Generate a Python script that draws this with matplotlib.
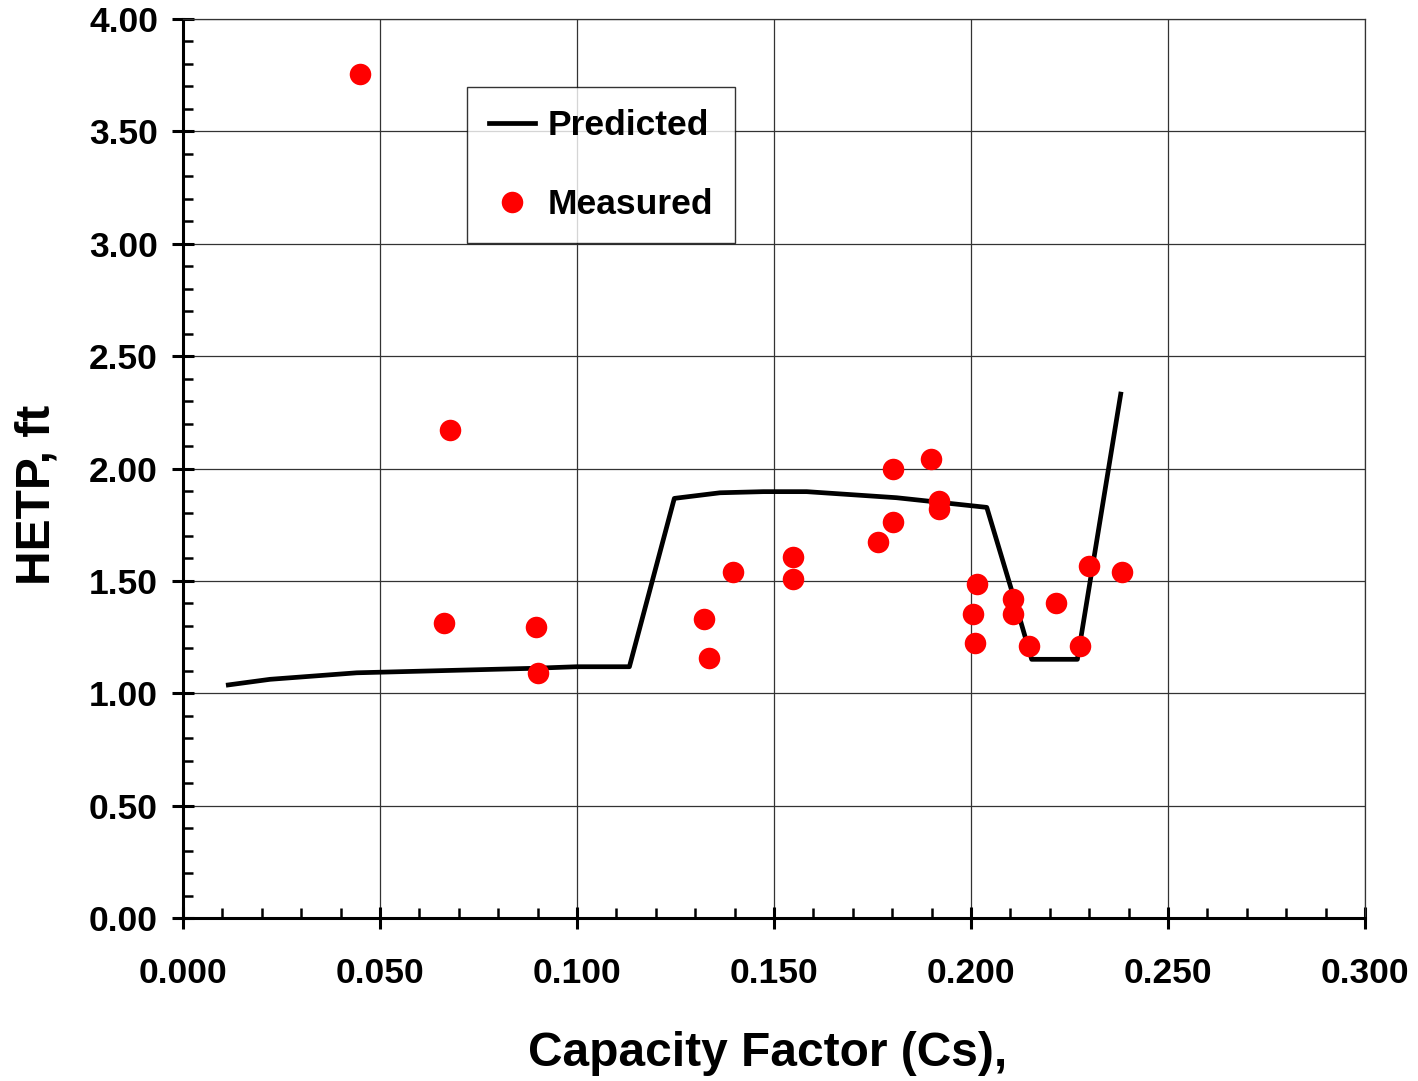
import matplotlib
matplotlib.use("Agg")
import matplotlib.pyplot as plt
from matplotlib.ticker import MultipleLocator, FormatStrFormatter

plt.rcParams['font.family'] = ['Liberation Sans', 'DejaVu Sans']
plt.rcParams['font.weight'] = 'bold'

# Predicted curve
pred_x = [0.0115, 0.0221, 0.0441, 0.0889, 0.0999, 0.1133, 0.1247, 0.1363,
          0.1473, 0.1583, 0.1811, 0.2040, 0.2103, 0.2154, 0.2270, 0.2380]
pred_y = [1.037, 1.062, 1.091, 1.111, 1.118, 1.118, 1.867, 1.892,
          1.897, 1.897, 1.870, 1.827, 1.459, 1.151, 1.151, 2.331]

# Measured points
meas_x = [0.0449, 0.0678, 0.0663, 0.0896, 0.0900, 0.1323, 0.1334, 0.1395,
          0.1547, 0.1547, 0.1765, 0.1803, 0.1803, 0.1898, 0.1918, 0.1918,
          0.2016, 0.2005, 0.2009, 0.2107, 0.2107, 0.2146, 0.2215, 0.2276,
          0.2299, 0.2382]
meas_y = [3.755, 2.171, 1.311, 1.293, 1.091, 1.332, 1.158, 1.540,
          1.606, 1.507, 1.673, 1.761, 1.996, 2.042, 1.857, 1.820,
          1.486, 1.353, 1.225, 1.419, 1.353, 1.212, 1.400, 1.212,
          1.566, 1.540]

W, H = 1418, 1081
fig = plt.figure(figsize=(W/100, H/100), dpi=100)
ax = fig.add_axes([183/W, 1-918/H, (1365-183)/W, (918-19)/H])

ax.plot(pred_x, pred_y, color='black', lw=3.4, label='Predicted', zorder=3)
ax.plot(meas_x, meas_y, linestyle='none', marker='o', ms=15.5, color='#ff0000',
        markeredgewidth=0, label='Measured', zorder=4)

ax.set_xlim(0, 0.3)
ax.set_ylim(0, 4.0)
ax.xaxis.set_major_locator(MultipleLocator(0.05))
ax.xaxis.set_minor_locator(MultipleLocator(0.01))
ax.yaxis.set_major_locator(MultipleLocator(0.5))
ax.yaxis.set_minor_locator(MultipleLocator(0.1))
ax.xaxis.set_major_formatter(FormatStrFormatter('%.3f'))
ax.yaxis.set_major_formatter(FormatStrFormatter('%.2f'))

ax.grid(True, which='major', color='#333333', lw=0.9)
ax.set_axisbelow(True)

for s in ['left', 'bottom']:
    ax.spines[s].set_linewidth(2.2)
for s in ['top', 'right']:
    ax.spines[s].set_linewidth(0.9)
    ax.spines[s].set_color('#333333')

ax.tick_params(axis='both', which='major', direction='inout', length=16, width=2.2,
               labelsize=25.5, top=False, right=False)
ax.tick_params(axis='both', which='minor', direction='in', length=7, width=1.8,
               top=False, right=False)
ax.tick_params(axis='x', which='major', pad=20)
ax.tick_params(axis='y', which='major', pad=10)
for lab in ax.get_xticklabels() + ax.get_yticklabels():
    lab.set_fontweight('bold')

ax.set_xlabel('Capacity Factor (Cs),', fontsize=34.5, fontweight='bold')
ax.set_ylabel('HETP, ft', fontsize=34.5, fontweight='bold')
ax.xaxis.set_label_coords((768 - 183) / (1365 - 183), -(1053 - 918) / (918 - 19))
ax.yaxis.set_label_coords(-(183 - 37) / (1365 - 183), (918 - 495) / (918 - 19))
ax.xaxis.label.set_va('center')
ax.yaxis.label.set_va('center')

leg = ax.legend(loc='upper left', bbox_to_anchor=(0.240, 0.924), fontsize=25.5,
                frameon=True, fancybox=False, edgecolor='black', numpoints=1,
                handlelength=1.3, handletextpad=0.36, labelspacing=1.3,
                borderpad=0.62, borderaxespad=0)
leg.get_frame().set_linewidth(1.0)
for t in leg.get_texts():
    t.set_fontweight('bold')

fig.savefig('out.png', dpi=100, facecolor='white')
